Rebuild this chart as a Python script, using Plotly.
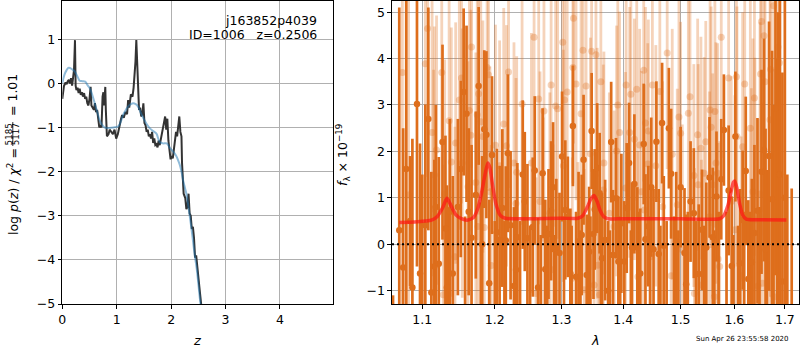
import plotly.graph_objects as go
import math

# ---------------- data: left panel (log p(z)) ----------------
z_pz = [0.00,0.03,0.06,0.08,0.10,0.12,0.14,0.16,0.18,0.20,0.215,0.233,0.245,0.26,0.28,0.30,0.32,0.34,0.36,0.38,
        0.40,0.42,0.44,0.46,0.48,0.50,0.52,0.535,0.56,0.58,0.60,0.62,0.64,0.66,0.68,0.70,0.72,0.74,0.755,0.77,
        0.79,0.80,0.82,0.85,0.87,0.90,0.93,0.96,0.99,1.02,1.05,1.08,1.10,1.13,1.16,1.19,1.21,1.23,1.26,1.29,
        1.31,1.33,1.345,1.36,1.375,1.39,1.41,1.43,1.45,1.47,1.49,1.51,1.53,1.55,1.57,1.59,1.61,1.63,1.65,1.67,
        1.69,1.71,1.73,1.75,1.77,1.79,1.81,1.83,1.85,1.87,1.89,1.91,1.93,1.95,1.97,1.99,2.01,2.03,2.05,2.07,
        2.09,2.11,2.13,2.15,2.17,2.19,2.20,2.215,2.23,2.26,2.28,2.30,2.32,2.34,2.36,2.38,2.40,2.42,2.44,2.46,
        2.48,2.50,2.53,2.56]
logpz = [-0.35,-0.06,0.02,-0.02,0.05,0.08,0.00,0.12,-0.05,0.15,0.30,0.98,-0.05,-0.15,-0.10,-0.22,-0.12,-0.26,-0.20,-0.30,
         -0.22,-0.35,-0.30,-0.45,-0.50,-0.35,-0.08,-0.50,-0.55,-0.60,-0.45,-0.65,-0.60,-0.85,-1.00,-0.95,-1.00,-0.30,-0.20,-0.50,
         -0.08,-0.60,-1.20,-1.15,-1.05,-1.10,-1.15,-1.05,-1.25,-1.15,-0.95,-0.80,-0.72,-0.78,-0.65,-0.70,-0.38,-0.55,-0.25,-0.30,
         -0.10,0.15,0.50,0.98,0.60,-0.10,-0.60,-0.55,-0.75,-0.70,-0.45,-0.90,-0.95,-1.10,-1.05,-1.20,-1.15,-1.25,-1.10,-1.35,
         -1.25,-1.40,-1.38,-1.45,-1.30,-1.40,-1.25,-1.20,-1.00,-0.85,-0.75,-1.05,-0.80,-1.30,-1.60,-1.72,-1.65,-1.70,-1.50,-1.35,
         -1.10,-1.20,-1.00,-0.75,-1.10,-1.20,-1.80,-2.40,-2.50,-2.60,-2.85,-2.80,-2.50,-2.95,-3.00,-3.30,-3.25,-3.50,-3.95,-3.90,
         -4.20,-4.45,-4.75,-5.10]

z_chi2 = [0.00,0.04,0.08,0.11,0.14,0.18,0.23,0.28,0.32,0.37,0.42,0.47,0.51,0.56,0.60,0.65,0.69,0.74,0.78,0.86,
          0.94,1.03,1.08,1.12,1.17,1.21,1.26,1.30,1.35,1.39,1.44,1.49,1.55,1.61,1.67,1.73,1.79,1.85,1.92,1.97,
          2.01,2.06,2.10,2.13,2.16,2.19,2.22,2.25,2.28,2.33,2.37,2.40,2.43,2.47,2.50,2.54,2.57]
logchi2 = [0.00,0.20,0.30,0.35,0.35,0.32,0.27,0.15,0.06,0.05,0.04,-0.05,-0.12,-0.30,-0.47,-0.68,-0.85,-0.95,-1.00,-1.01,
           -1.00,-0.97,-0.85,-0.71,-0.60,-0.52,-0.47,-0.45,-0.47,-0.52,-0.66,-0.79,-0.92,-1.02,-1.08,-1.14,-1.33,-1.36,-1.36,-1.45,
           -1.51,-1.58,-1.66,-1.75,-1.85,-2.00,-2.20,-2.35,-2.50,-2.90,-3.26,-3.55,-3.86,-4.20,-4.54,-5.00,-5.25]

# ---------------- data: right panel (spectrum) ----------------
# dark points (dots visible)
lam_a = [1.062,1.070,1.075,1.079,1.084,1.087,1.093,1.097,1.104,1.108,1.112,1.116,1.118,1.122,1.127,1.131,1.133,1.137,1.141,1.148,
         1.152,1.156,1.160,1.163,1.167,1.173,1.177,1.182,1.185,1.188,1.192,1.196,1.203,1.207,1.211,1.216,1.219,1.223,1.228,1.231,
         1.233,1.241,1.244,1.248,1.256,1.259,1.264,1.271,1.275,1.280,1.284,1.287,1.292,1.297,1.301,1.306,1.310,1.314,1.318,1.323,
         1.327,1.332,1.335,1.340,1.344,1.348,1.351,1.353,1.357,1.361,1.365,1.370,1.375,1.380,1.383,1.388,1.392,1.397,1.402,1.406,
         1.410,1.415,1.419,1.424,1.429,1.435,1.438,1.443,1.448,1.452,1.457,1.461,1.467,1.470,1.479,1.483,1.492,1.500,1.507,1.510,
         1.518,1.524,1.533,1.539,1.547,1.553,1.559,1.566,1.575,1.580,1.589,1.595,1.602,1.611,1.616,1.622,1.627,1.634,1.639,1.645,
         1.653,1.658,1.661,1.668,1.674,1.681,1.686,1.690,1.695,1.700,1.705,1.714]
flux_a = [-2.50,0.30,-0.50,1.62,0.50,-0.93,3.02,-0.63,0.41,2.70,-1.04,-0.48,0.80,-0.42,2.20,0.34,-0.93,0.70,-0.63,0.80,
          1.62,3.28,2.81,0.70,0.14,1.06,3.41,0.00,2.48,2.36,-0.84,1.92,0.26,0.09,0.78,0.08,1.96,0.41,-0.90,-0.55,
          0.15,1.50,0.92,0.13,0.37,1.59,-0.93,1.53,-0.54,0.22,0.72,1.23,-0.09,-0.19,1.89,0.74,0.59,-0.63,2.55,-0.70,
          0.06,0.20,1.82,-0.66,-0.16,2.44,0.22,0.75,1.64,1.10,-0.30,0.09,-1.00,2.20,-0.23,0.99,-0.37,0.45,-0.37,0.78,
          1.75,-0.07,1.30,-0.07,-0.63,2.16,0.11,0.39,1.23,-0.11,2.21,-0.21,2.61,-0.03,2.50,1.52,0.06,1.23,-0.19,-0.86,
          0.92,0.67,-0.64,0.31,-0.07,1.44,0.15,1.03,1.40,2.46,1.16,-0.47,2.32,-0.41,0.52,1.58,-0.75,-0.39,0.24,0.72,
          1.56,2.03,-0.11,1.90,0.97,2.93,0.50,1.50,-0.80,1.00,-1.60,-1.90]
err_a = [1.4,4.8,3.0,4.5,1.4,3.2,3.5,2.8,2.6,2.4,2.6,2.3,2.2,2.3,2.1,2.0,2.2,2.0,2.1,1.9,
         1.9,1.8,1.9,1.8,2.0,1.8,1.7,1.9,1.7,1.8,1.8,1.7,1.8,1.6,1.7,1.6,1.7,1.6,1.7,1.5,
         1.6,1.6,1.5,1.6,1.5,1.6,1.5,1.4,1.5,1.4,1.5,1.4,1.5,1.3,1.4,1.5,1.3,1.4,1.3,1.4,
         1.5,1.3,1.4,1.3,1.4,1.25,1.4,1.3,1.4,1.3,1.4,1.3,1.5,1.3,1.4,1.3,1.4,1.5,1.3,1.4,
         1.3,1.4,1.5,1.3,1.4,1.3,1.4,1.3,1.5,1.3,1.3,1.4,1.3,1.5,1.3,1.4,1.5,1.3,1.4,1.5,
         1.3,1.4,1.5,1.3,1.4,1.3,1.5,1.4,1.3,1.2,1.4,1.5,1.4,1.6,1.5,1.6,1.7,1.8,1.9,2.0,
         2.2,2.4,2.6,2.9,3.2,3.6,4.5,4.8,4.5,5.0,3.1,3.1]

# dark points whose dots fall below the plotted range (only their bars show)
lam_c = [1.100,1.135,1.158,1.180,1.200,1.214,1.237,1.252,1.268,1.278,1.289,1.304,1.316,1.330,1.346,1.363,1.378,1.395,1.413,1.427,
         1.446,1.464,1.475,1.488,1.496,1.513,1.528,1.543,1.562,1.570,1.585,1.598,1.607,1.619,1.631,1.649,1.664,1.677,1.684]
flux_c = [-2.0,-1.8,-2.2,-1.6,-2.0,-1.7,-1.9,-1.6,-2.1,-1.5,-1.8,-1.6,-2.0,-1.7,-1.5,-1.9,-1.6,-2.0,-1.7,-1.5,
          -1.8,-1.6,-2.0,-1.7,-1.5,-1.9,-1.6,-2.0,-1.7,-1.5,-1.8,-2.1,-1.6,-1.9,-1.7,-2.2,-1.8,-2.5,-2.0]
err_c = [3.5,2.6,2.8,2.5,2.5,2.2,2.4,2.0,2.3,1.9,2.0,2.2,2.4,2.0,2.1,2.3,1.9,2.6,2.0,2.2,
         2.4,2.0,2.5,2.3,1.8,2.6,2.1,2.4,2.0,2.2,2.5,2.3,2.0,2.6,2.4,3.0,3.4,5.5,6.0]

# light points
lam_b = [1.074,1.082,1.104,1.107,1.113,1.115,1.116,1.119,1.126,1.128,1.130,1.136,1.139,1.144,1.145,1.150,1.153,1.154,1.162,1.164,
         1.166,1.167,1.173,1.175,1.176,1.177,1.180,1.183,1.185,1.189,1.191,1.193,1.195,1.201,1.207,1.213,1.217,1.220,1.228,1.231,
         1.232,1.240,1.254,1.258,1.261,1.265,1.267,1.272,1.273,1.282,1.284,1.287,1.291,1.294,1.302,1.303,1.305,1.309,1.317,1.318,
         1.319,1.323,1.326,1.331,1.334,1.336,1.339,1.346,1.348,1.352,1.355,1.357,1.358,1.361,1.363,1.367,1.368,1.377,1.385,1.389,
         1.391,1.394,1.404,1.405,1.411,1.413,1.419,1.423,1.425,1.428,1.431,1.435,1.436,1.438,1.442,1.443,1.447,1.450,1.456,1.463,
         1.468,1.476,1.483,1.485,1.494,1.497,1.500,1.503,1.514,1.517,1.524,1.525,1.531,1.532,1.537,1.538,1.543,1.546,1.553,1.554,
         1.556,1.559,1.562,1.563,1.565,1.568,1.569,1.572,1.575,1.589,1.594,1.601,1.604,1.605,1.613,1.616,1.620,1.631,1.633,1.636,
         1.639,1.640,1.646,1.650,1.651,1.653,1.655,1.658,1.660,1.670,1.671,1.677,1.678,1.686,1.689]
flux_b = [3.70,1.06,3.89,4.65,2.41,0.76,1.49,2.03,3.70,-1.09,1.08,2.66,1.77,-0.27,2.18,3.11,3.58,1.75,1.24,2.88,
          2.35,4.25,1.33,2.79,0.38,3.24,2.64,2.32,0.36,3.81,3.65,1.13,-0.46,2.13,1.69,2.59,2.12,3.71,1.75,0.88,
          1.55,3.02,1.75,4.46,-1.06,3.13,0.92,0.13,2.87,0.67,3.43,-0.55,2.98,2.92,4.35,1.69,3.11,3.28,-0.73,3.81,
          4.87,3.45,-0.73,2.81,4.18,-0.98,3.41,1.95,4.16,-0.88,4.08,1.53,-0.45,-1.09,3.50,1.17,1.75,0.67,0.38,2.01,
          3.00,2.41,1.21,3.43,2.41,3.23,2.26,3.34,-0.70,2.14,1.13,3.75,0.74,2.61,1.73,2.44,-0.27,3.43,1.69,3.29,
          0.81,4.12,-0.68,1.94,0.85,2.74,2.39,-0.12,2.82,3.18,1.48,-1.06,2.36,1.28,2.07,-0.88,1.53,2.21,0.59,2.89,
          2.52,1.28,-1.13,2.86,1.75,1.53,-0.32,-0.48,4.46,3.58,0.92,0.31,3.61,2.32,-0.68,2.10,3.45,2.50,0.16,1.13,
          3.15,0.52,-0.90,1.08,3.67,4.80,-0.84,4.49,3.50,2.68,3.77,5.14,-1.13,4.25,3.91]
err_b = [5.0,4.5,3.4,3.2,3.1,3.0,3.2,2.9,3.0,2.8,2.9,2.7,2.9,2.8,2.6,2.8,2.7,2.9,2.7,2.6,
         2.7,2.6,2.8,2.7,2.8,2.6,2.7,2.5,2.8,2.6,2.5,2.7,2.6,2.6,2.7,2.5,2.6,2.5,2.6,2.7,
         2.5,2.6,2.8,2.6,2.5,2.7,2.8,2.6,2.7,2.6,2.5,2.7,2.6,2.8,2.6,2.5,2.7,2.6,2.6,2.5,
         2.7,2.5,2.5,2.6,2.4,2.6,2.7,2.5,2.6,2.5,2.4,2.7,2.5,2.6,2.5,2.7,2.4,2.6,2.5,2.7,
         2.4,2.6,2.5,2.4,2.7,2.5,2.6,2.4,2.7,2.5,2.6,2.4,2.7,2.5,2.6,2.4,2.7,2.5,2.6,2.4,
         2.7,2.5,2.6,2.7,2.5,2.6,2.4,2.7,2.5,2.6,2.4,2.7,2.5,2.6,2.4,2.7,2.5,2.6,2.7,2.5,
         2.6,2.4,2.7,2.5,2.6,2.8,2.5,2.7,2.6,2.8,2.7,2.9,2.6,2.8,3.0,2.9,2.8,3.1,3.2,3.3,
         3.4,3.5,3.6,3.7,3.9,4.1,3.9,4.3,4.5,4.7,4.9,5.1,4.9,5.5,5.7]

lam_model = [1.070,1.090,1.104,1.112,1.120,1.127,1.133,1.138,1.145,1.153,1.162,1.170,1.176,1.181,1.186,1.190,1.193,1.197,1.202,1.208,
             1.215,1.230,1.300,1.326,1.334,1.341,1.347,1.352,1.357,1.362,1.368,1.375,1.400,1.500,1.572,1.580,1.588,1.594,1.598,1.601,
             1.605,1.610,1.616,1.623,1.650,1.703]
flux_model = [0.47,0.48,0.50,0.52,0.60,0.78,0.99,0.85,0.64,0.55,0.52,0.58,0.78,1.10,1.50,1.75,1.65,1.25,0.85,0.62,
              0.56,0.55,0.56,0.56,0.62,0.80,0.98,1.05,0.92,0.72,0.59,0.55,0.55,0.55,0.55,0.62,0.85,1.15,1.33,1.36,
              1.20,0.88,0.63,0.54,0.53,0.52]

lam_zero = [1.0607, 1.7291]
flux_zero = [0.0, 0.0]

x_ticks_left = [0, 1, 2, 3, 4]
y_ticks_left = [-5, -4, -3, -2, -1, 0, 1]
x_ticks_right = [1.1, 1.2, 1.3, 1.4, 1.5, 1.6, 1.7]
x_ticklabels_right = ["1.1", "1.2", "1.3", "1.4", "1.5", "1.6", "1.7"]
y_ticks_right = [-1, 0, 1, 2, 3, 4, 5]

# ---------------- figure ----------------
W, H = 800, 350
FONT = "DejaVu Sans"
FS = 12.5
ORANGE = "rgb(222,110,28)"
ORANGE_L = "rgba(222,110,28,0.3)"

fig = go.Figure()

fig.add_trace(go.Scatter(x=z_pz, y=logpz, mode="lines", line=dict(color="#333333", width=2),
                         xaxis="x", yaxis="y", showlegend=False))
fig.add_trace(go.Scatter(x=z_chi2, y=logchi2, mode="lines", line=dict(color="rgba(31,119,180,0.5)", width=2, shape="spline"),
                         xaxis="x", yaxis="y", showlegend=False))

fig.add_trace(go.Scatter(x=lam_b, y=flux_b, mode="markers",
                         marker=dict(color=ORANGE_L, size=7, line=dict(width=0)),
                         error_y=dict(type="data", array=err_b, color=ORANGE_L, thickness=2.8, width=0),
                         xaxis="x2", yaxis="y2", showlegend=False, cliponaxis=True))
for lx, fy, ee in [(lam_c, flux_c, err_c), (lam_a, flux_a, err_a)]:
    fig.add_trace(go.Scatter(x=lx, y=fy, mode="markers",
                             marker=dict(color=ORANGE, size=6.5, line=dict(width=0)),
                             error_y=dict(type="data", array=ee, color=ORANGE, thickness=2.7, width=0),
                             xaxis="x2", yaxis="y2", showlegend=False, cliponaxis=True))
fig.add_trace(go.Scatter(x=lam_model, y=flux_model, mode="lines",
                         line=dict(color="rgba(255,20,20,0.7)", width=3.5, shape="spline", smoothing=0.6),
                         xaxis="x2", yaxis="y2", showlegend=False))
fig.add_trace(go.Scatter(x=lam_zero, y=flux_zero, mode="lines",
                         line=dict(color="black", width=2, dash="2px,3px"),
                         xaxis="x2", yaxis="y2", showlegend=False))

ax_common = dict(showline=True, linecolor="black", linewidth=1.2, mirror=True,
                 ticks="outside", ticklen=3.5, tickwidth=1, tickcolor="black",
                 showgrid=True, gridcolor="#b0b0b0", gridwidth=1, zeroline=False, automargin=False,
                 tickfont=dict(family=FONT, size=FS, color="black"))

ybot = 1 - 304 / H
ytop = 1 - 1 / H
fig.update_layout(
    width=W, height=H, margin=dict(l=0, r=0, t=0, b=0, pad=0, autoexpand=False),
    paper_bgcolor="white", plot_bgcolor="white",
    xaxis=dict(domain=[62.3 / W, 333.3 / W], range=[0, 4.98], tickvals=x_ticks_left, anchor="y", **ax_common),
    yaxis=dict(domain=[ybot, ytop], range=[-5, 1.867], tickvals=y_ticks_left, anchor="x", **ax_common),
    xaxis2=dict(domain=[392 / W, 799 / W], type="log", range=[math.log10(1.0607), math.log10(1.7291)],
                tickvals=x_ticks_right, ticktext=x_ticklabels_right, anchor="y2", **ax_common),
    yaxis2=dict(domain=[ybot, ytop], range=[-1.287, 5.24], tickvals=y_ticks_right, anchor="x2", **ax_common),
)

def px(x):
    return x / W

def py(y):
    return 1 - y / H

anns = [
    dict(text="j163852p4039", x=px(319), y=py(20), xanchor="right", yanchor="middle", font=dict(size=FS)),
    dict(text="ID=1006\u00a0\u00a0\u00a0z=0.2506", x=px(319), y=py(34.5), xanchor="right", yanchor="middle", font=dict(size=FS)),
    dict(text="<i>z</i>", x=px(197.5), y=py(340), xanchor="center", yanchor="middle", font=dict(size=FS + 0.5)),
    dict(text="<i>λ</i>", x=px(595.5), y=py(340), xanchor="center", yanchor="middle", font=dict(size=FS + 0.5)),
    dict(text="log\u00a0<i>p</i>(<i>z</i>)\u00a0/\u00a0<i>χ</i><sup>2</sup>\u00a0=", x=px(13), y=py(192), textangle=-90,
         xanchor="center", yanchor="middle", font=dict(size=FS)),
    dict(text="5185", x=px(9.4), y=py(134), textangle=-90, xanchor="center", yanchor="middle", font=dict(size=8.7)),
    dict(text="5117", x=px(16.2), y=py(134), textangle=-90, xanchor="center", yanchor="middle", font=dict(size=8.7)),
    dict(text="=\u00a01.01", x=px(13), y=py(95), textangle=-90, xanchor="center", yanchor="middle", font=dict(size=FS)),
    dict(text="<i>f</i><sub>λ</sub>\u00a0×\u00a010<sup>−19</sup>", x=px(343), y=py(155), textangle=-90,
         xanchor="center", yanchor="middle", font=dict(size=FS)),
    dict(text="Sun Apr 26 23:55:58 2020", x=px(742), y=py(339), xanchor="center", yanchor="middle", font=dict(size=7)),
]
for a in anns:
    a.update(xref="paper", yref="paper", showarrow=False)
    a["font"].update(family=FONT, color="black")
fig.update_layout(annotations=anns)

fig.add_shape(type="line", xref="paper", yref="paper", x0=px(12.8), x1=px(12.8), y0=py(122), y1=py(146),
              line=dict(color="black", width=0.8))

fig.write_html("out.html", config={"displayModeBar": False},
               post_script="document.body.style.margin='0';document.body.style.padding='0';document.body.style.overflow='hidden';")
